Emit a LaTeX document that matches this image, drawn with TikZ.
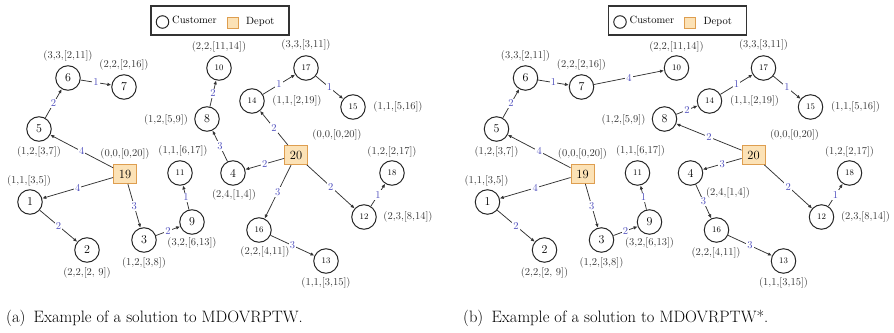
\documentclass[tikz,border=0pt]{standalone}
\usetikzlibrary{arrows.meta}
\definecolor{edgelab}{RGB}{80,80,190}
\definecolor{depfill}{RGB}{252,226,182}
\definecolor{depdraw}{RGB}{222,158,80}
\tikzset{
 cust/.style={circle,draw=black!85,line width=1pt,minimum size=24.5pt,inner sep=0pt,font=\fontsize{12}{12}\selectfont},
 custs/.style={cust,font=\fontsize{8.5}{9}\selectfont},
 depot/.style={rectangle,draw=depdraw,fill=depfill,line width=0.9pt,minimum width=23pt,minimum height=19pt,inner sep=0pt,font=\fontsize{12.5}{13}\selectfont},
 info/.style={font=\fontsize{10.5}{11}\selectfont,text=black!78,inner sep=0pt},
 arc/.style={draw=black!80,line width=0.75pt,-{Latex[length=4pt,width=3.5pt]}},
 elab/.style={fill=white,text=edgelab,font=\fontsize{10.5}{11}\selectfont,inner sep=1.2pt},
 legbox/.style={draw=black!80,line width=1.1pt},
 legtxt/.style={font=\fontsize{10.5}{11}\selectfont,inner sep=0pt,anchor=west},
 captxt/.style={font=\fontsize{16.5}{18}\selectfont,inner sep=0pt,anchor=base west},
}
\begin{document}
\begin{tikzpicture}[x=1pt,y=-1pt]
\useasboundingbox (0,0) rectangle (894,332);
\foreach \p/\sh in {a/0,b/457.5}{
 \begin{scope}[xshift=\sh pt]
  % legend
  \node[legbox,minimum width=138pt,minimum height=29pt,inner sep=0pt] (\p leg) at (220,20.5) {};
  \node[circle,draw=black!85,line width=1pt,minimum size=12.5pt,inner sep=0pt] (\p legc) at (162.5,22) {};
  \node[legtxt] (\p legct) at (172,19.5) {Customer};
  \node[rectangle,draw=depdraw,fill=depfill,line width=0.9pt,minimum size=11pt,inner sep=0pt] (\p legd) at (232.5,22.5) {};
  \node[legtxt] (\p legdt) at (246,21.5) {Depot};
  % customers
  \foreach \n/\x/\y in {1/30/202,2/87/250,3/144/240,4/233/173,5/39/129,6/68/78,7/124/87,8/207/119,9/192/222}
    \node[cust] (\p\n) at (\x,\y) {\n};
  \foreach \n/\x/\y in {10/219/68,11/180/173,12/364/217,13/326/261,14/252/101,15/353/107,16/259/230,17/306/68,18/392/173}
    \node[custs] (\p\n) at (\x,\y) {\n};
  \node[depot] (\p19) at (125,174) {19};
  \node[depot] (\p20) at (296,155) {20};
  % data labels
  \foreach \n/\x/\y/\t in {1/29/181/{(1,1,[3,5])},2/87/273/{(2,2,[2,\ 9])},3/144/263/{(1,2,[3,8])},
     5/39/152/{(1,2,[3,7])},6/68/56/{(3,3,[2,11])},7/124/65/{(2,2,[2,16])},8/166/120/{(1,2,[5,9])},
     9/192/243/{(3,2,[6,13])},10/219/47/{(2,2,[11,14])},11/183/151/{(1,1,[6,17])},12/408/217/{(2,3,[8,14])},
     13/326/283/{(1,1,[3,15])},14/297/101/{(1,1,[2,19])},15/398/107/{(1,1,[5,16])},17/306/45/{(3,3,[3,11])},
     18/392/152/{(1,2,[2,17])},19/125/154/{(0,0,[0,20])},20/337/135/{(0,0,[0,20])}}
    \node[info] (\p L\n) at (\x,\y) {\t};
 \end{scope}
}
% panel-specific labels
\node[info] (aL4) at (234,195) {(2,4,[1,4])};
\node[info] (aL16) at (265,252) {(2,2,[4,11])};
\node[info] (bL4) at (728,193) {(2,4,[1,4])};
\node[info] (bL16) at (716,253) {(2,2,[4,11])};
% edges panel a
\foreach \s/\t/\w in {19/5/4,5/6/2,6/7/1,19/1/4,1/2/2,19/3/3,3/9/2,9/11/1,20/4/2,4/8/3,8/10/2,
   20/14/2,14/17/1,17/15/1,20/16/3,16/13/3,20/12/2,12/18/1}
  \draw[arc] (a\s) -- node[elab] {\w} (a\t);
% edges panel b
\foreach \s/\t/\w in {19/5/4,5/6/2,6/7/1,7/10/4,19/1/4,1/2/2,19/3/3,3/9/2,9/11/1,20/8/2,8/14/2,
   14/17/1,17/15/1,20/4/3,4/16/3,16/13/3,20/12/2,12/18/1}
  \draw[arc] (b\s) -- node[elab] {\w} (b\t);
% captions
\node[captxt] (capa) at (6,322) {(a)\enspace Example of a solution to MDOVRPTW.};
\node[captxt] (capb) at (463,322) {(b)\enspace Example of a solution to MDOVRPTW*.};
\end{tikzpicture}
\end{document}
